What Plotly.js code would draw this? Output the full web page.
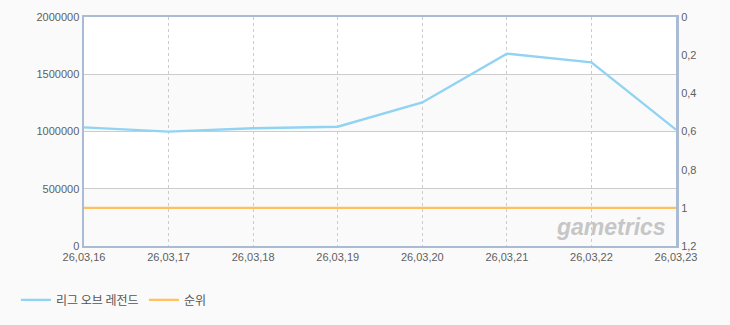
<!DOCTYPE html>
<html>
<head>
<meta charset="utf-8">
<script src="https://cdn.plot.ly/plotly-3.0.1.min.js"></script>
<style>
html,body{margin:0;padding:0;background:#fafafa;}
#chart{width:730px;height:325px;}
</style>
</head>
<body>
<div id="chart"></div>
<script>
const dates = ['26.03.16','26.03.17','26.03.18','26.03.19','26.03.20','26.03.21','26.03.22','26.03.23'];
const dateLabels = ['26,03,16','26,03,17','26,03,18','26,03,19','26,03,20','26,03,21','26,03,22','26,03,23'];
const lolValues = [1036000, 999000, 1028000, 1042000, 1254000, 1680000, 1604000, 1016000];
const rankValues = [1, 1, 1, 1, 1, 1, 1, 1];
const seriesNames = ['리그 오브 레전드', '순위'];
const leftTicks = [0, 500000, 1000000, 1500000, 2000000];
const rightTicks = [0, 0.2, 0.4, 0.6, 0.8, 1, 1.2];
const rightTickText = ['0', '0,2', '0,4', '0,6', '0,8', '1', '1,2'];

const axisLine = '#a9bcd3';
const tickFont = {family: 'Liberation Sans, Arial, sans-serif', size: 11, color: '#5f5f5f'};

const traces = [
  {x: dates, y: lolValues, name: seriesNames[0], type: 'scatter', mode: 'lines',
   line: {color: '#91d3f3', width: 2.4}, yaxis: 'y', hoverinfo: 'x+y'},
  {x: dates, y: rankValues, name: seriesNames[1], type: 'scatter', mode: 'lines',
   line: {color: '#ffc061', width: 2.4}, yaxis: 'y2', hoverinfo: 'x+y'}
];

// alternating band shading
const bands = [];
for (let i = 0; i < leftTicks.length - 1; i++) {
  if (i % 2 === 0) {
    bands.push({type: 'rect', xref: 'paper', yref: 'y', x0: 0, x1: 1,
      y0: leftTicks[i], y1: leftTicks[i+1], fillcolor: '#fafafa', line: {width: 0}, layer: 'below'});
  }
}

const layout = {
  width: 730, height: 325,
  margin: {l: 84, r: 54, t: 17, b: 78},
  paper_bgcolor: '#fafafa',
  plot_bgcolor: '#ffffff',
  showlegend: true,
  legend: {orientation: 'h', x: -0.115, xanchor: 'left', y: -0.23, yanchor: 'middle',
    font: {family: 'Noto Sans CJK KR, sans-serif', size: 12, color: '#555555'},
    bgcolor: 'rgba(0,0,0,0)', itemwidth: 30, entrywidth: 83, traceorder: 'normal'},
  xaxis: {
    type: 'category', range: [0, dates.length - 1],
    tickvals: dates, ticktext: dateLabels,
    showgrid: true, gridcolor: '#cccccc', griddash: '3px,3px', gridwidth: 1,
    showline: true, linecolor: axisLine, linewidth: 2, mirror: true,
    ticks: '', tickfont: tickFont, zeroline: false, fixedrange: true
  },
  yaxis: {
    range: [0, 2000000], tickvals: leftTicks, ticktext: leftTicks.map(v => String(v)),
    showgrid: true, gridcolor: '#cccccc', gridwidth: 1,
    showline: true, linecolor: axisLine, linewidth: 2.5, mirror: true,
    ticks: '', tickfont: tickFont, zeroline: false, ticklabelstandoff: 0, fixedrange: true
  },
  yaxis2: {
    overlaying: 'y', side: 'right', range: [1.2, 0],
    tickvals: rightTicks, ticktext: rightTickText,
    showgrid: false, showline: true, linecolor: axisLine, linewidth: 2,
    ticks: '', tickfont: tickFont, zeroline: false, ticklabelstandoff: 1, fixedrange: true
  },
  shapes: bands,
  annotations: [{
    text: 'gametrics', xref: 'paper', yref: 'paper', x: 0.89, y: 0.083,
    xanchor: 'center', yanchor: 'middle', showarrow: false,
    font: {family: 'Liberation Sans, Arial, sans-serif', size: 23, color: '#c6c6c6', weight: 'bold', style: 'italic'}
  }]
};

Plotly.newPlot('chart', traces, layout, {displayModeBar: false, staticPlot: true});
</script>
</body>
</html>
